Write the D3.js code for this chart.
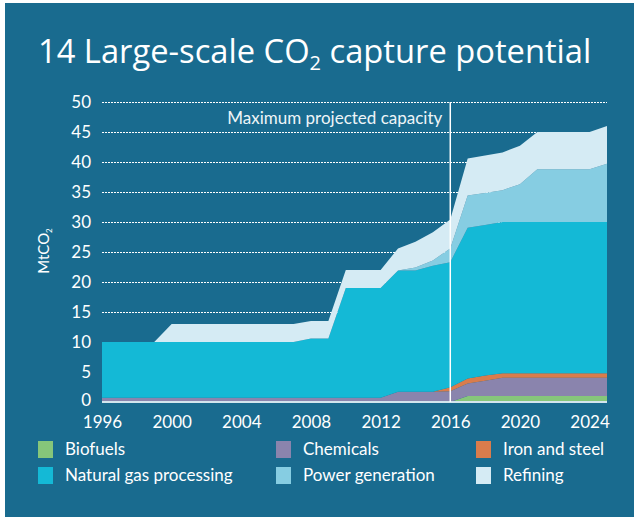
<!DOCTYPE html>
<html>
<head>
<meta charset="utf-8">
<script src="https://cdn.jsdelivr.net/npm/d3@7"></script>
<style>
  html, body { margin: 0; padding: 0; background: #ffffff; }
  svg { display: block; }
</style>
</head>
<body>
<svg id="chart" width="634" height="517"></svg>
<script>
const years = [1996,1997,1998,1999,2000,2001,2002,2003,2004,2005,2006,2007,2008,2009,2010,2011,2012,2013,2014,2015,2016,2017,2018,2019,2020,2021,2022,2023,2024,2025];
const seriesNames = ["Biofuels","Chemicals","Iron and steel","Natural gas processing","Power generation","Refining"];
const biofuels = [0,0,0,0,0,0,0,0,0,0,0,0,0,0,0,0,0,0,0,0,0,1.0,1.0,1.0,1.0,1.0,1.0,1.0,1.0,1.0];
const chemicals = [0.7,0.7,0.7,0.7,0.7,0.7,0.7,0.7,0.7,0.7,0.7,0.7,0.7,0.7,0.7,0.7,0.7,1.7,1.7,1.7,1.8,2.1,2.55,3.05,3.05,3.05,3.05,3.05,3.05,3.05];
const ironSteel = [0,0,0,0,0,0,0,0,0,0,0,0,0,0,0,0,0,0,0,0,0.65,0.8,0.85,0.75,0.75,0.75,0.75,0.75,0.75,0.75];
const naturalGas = [9.3,9.3,9.3,9.3,9.3,9.3,9.3,9.3,9.3,9.3,9.3,9.3,9.9,9.9,18.3,18.3,18.3,20.2,20.2,21.0,20.85,25.15,25.1,25.2,25.2,25.2,25.2,25.2,25.2,25.2];
const powerGen = [0,0,0,0,0,0,0,0,0,0,0,0,0,0,0,0,0,0,0.5,0.9,2.3,5.35,5.35,5.3,6.3,8.8,8.8,8.8,8.8,9.7];
const refining = [0,0,0,0,3,3,3,3,3,3,3,3,2.9,2.9,3,3,3,3.7,4.3,4.7,4.8,6.2,6.25,6.3,6.4,6.2,6.2,6.2,6.2,6.3];
const yTicks = [0,5,10,15,20,25,30,35,40,45,50];
const xTicks = [1996,2000,2004,2008,2012,2016,2020,2024];
const markerYear = 2016;
const markerLabel = "Maximum projected capacity";
const colors = ["#86c67a","#8a84ad","#d97c4c","#14b9d6","#86cde2","#d5ebf4"];

const seriesValues = [biofuels, chemicals, ironSteel, naturalGas, powerGen, refining];
const table = years.map((y, i) => {
  const row = { year: y };
  seriesNames.forEach((n, k) => row[n] = seriesValues[k][i]);
  return row;
});

const svg = d3.select("#chart");
const bg = "#196b8f";
svg.append("rect").attr("x", 5).attr("y", 3).attr("width", 629).attr("height", 514).attr("fill", bg);

// Title
const title = svg.append("text")
  .attr("x", 38).attr("y", 63)
  .attr("fill", "#ffffff")
  .attr("font-family", "'Open Sans', sans-serif")
  .attr("font-size", 32.7);
title.append("tspan").text("14 Large-scale CO");
title.append("tspan").attr("font-size", 20).attr("dy", 7).text("2");
title.append("tspan").attr("dy", -7).text(" capture potential");

const x = d3.scaleLinear().domain([1996, 2025]).range([102, 607]);
const y = d3.scaleLinear().domain([0, 50]).range([402, 102]);

const font = "Lato, 'Open Sans', sans-serif";
const fs = 17;

// Y tick labels
const yAxis = d3.axisLeft(y).tickValues(yTicks).tickSize(0).tickPadding(11);
const gy = svg.append("g").attr("transform", "translate(102,0)").call(yAxis);
gy.select(".domain").remove();
gy.selectAll("text").attr("fill", "#ffffff").attr("font-family", font).attr("font-size", fs)
  .attr("dy", d => d === 0 ? "0.2em" : "0.32em");

// Gridlines
svg.append("g").selectAll("line").data(yTicks.filter(t => t > 0)).join("line")
  .attr("x1", 102).attr("x2", 607)
  .attr("y1", d => y(d) + 0.5).attr("y2", d => y(d) + 0.5)
  .attr("stroke", "#ffffff").attr("stroke-width", 1.2)
  .attr("stroke-dasharray", "2,1");

// Stacked areas
const stack = d3.stack().keys(seriesNames);
const layers = stack(table);
const area = d3.area()
  .x(d => x(d.data.year))
  .y0(d => y(d[0]))
  .y1(d => y(d[1]));
svg.append("g").selectAll("path").data(layers).join("path")
  .attr("d", area)
  .attr("fill", (d, i) => colors[i]);

// Baseline
svg.append("line").attr("x1", 102).attr("x2", 607)
  .attr("y1", y(0)).attr("y2", y(0))
  .attr("stroke", "#d3e6ee").attr("stroke-width", 2);

// X axis labels
const xAxis = d3.axisBottom(x).tickValues(xTicks).tickFormat(d3.format("d")).tickSize(0).tickPadding(14);
const gx = svg.append("g").attr("transform", `translate(0,${y(0)})`).call(xAxis);
gx.select(".domain").remove();
gx.selectAll("text").attr("fill", "#ffffff").attr("font-family", font).attr("font-size", fs);

// Marker line
svg.append("line")
  .attr("x1", x(markerYear)).attr("x2", x(markerYear))
  .attr("y1", y(50)).attr("y2", y(0))
  .attr("stroke", "#ffffff").attr("stroke-width", 1.5);
svg.append("text")
  .attr("x", x(markerYear) - 8).attr("y", 124)
  .attr("text-anchor", "end")
  .attr("fill", "#eef5f8")
  .attr("font-family", font).attr("font-size", fs)
  .text(markerLabel);

// Y axis title
const yt = svg.append("text")
  .attr("transform", "translate(49,251) rotate(-90)")
  .attr("text-anchor", "middle")
  .attr("fill", "#ffffff")
  .attr("font-family", font).attr("font-size", 15);
yt.append("tspan").text("MtCO");
yt.append("tspan").attr("font-size", 8).attr("dy", 3).text("2");

// Legend
const legX = [38, 276, 476];
const legY = [441, 467];
const leg = svg.append("g").selectAll("g").data(seriesNames).join("g")
  .attr("transform", (d, i) => `translate(${legX[i % 3]},${legY[Math.floor(i / 3)]})`);
leg.append("rect").attr("width", 15).attr("height", 17).attr("fill", (d, i) => colors[i]);
leg.append("text").attr("x", 27).attr("y", 14)
  .attr("fill", "#ffffff").attr("font-family", font).attr("font-size", fs)
  .text(d => d);
</script>
</body>
</html>
